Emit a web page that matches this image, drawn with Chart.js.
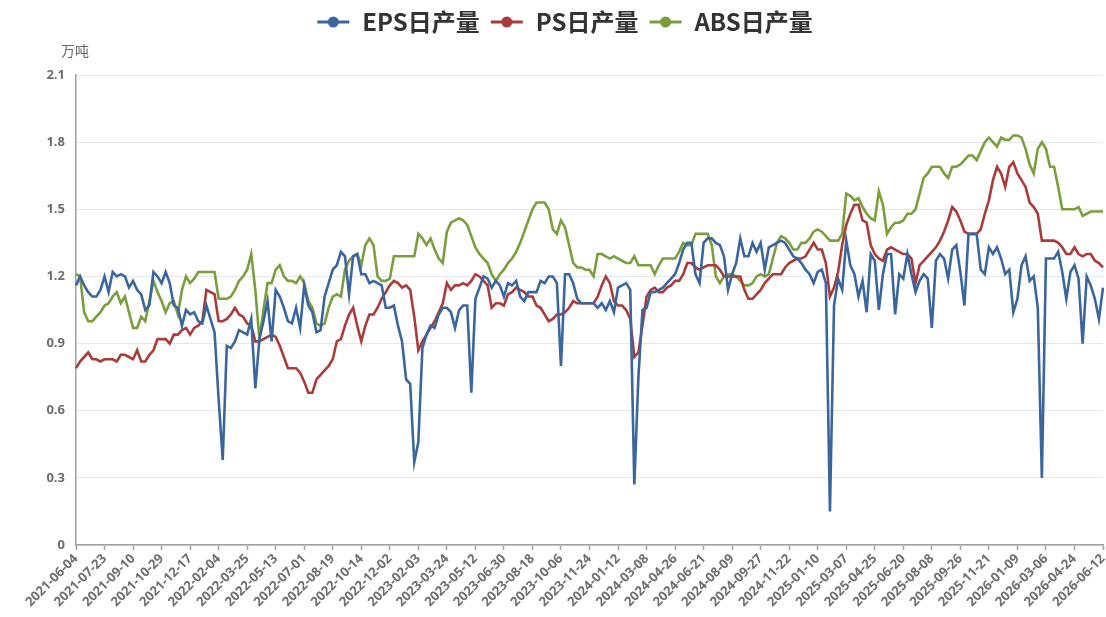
<!DOCTYPE html>
<html>
<head>
<meta charset="utf-8">
<script src="https://cdn.jsdelivr.net/npm/chart.js@4.4.1/dist/chart.umd.min.js"></script>
<style>
html,body{margin:0;padding:0;background:#ffffff;}
canvas{display:block;}
</style>
</head>
<body>
<canvas id="chart" width="1106" height="617"></canvas>
<script>
// ---------- data ----------
const firstWeek = '2021-06-04';
const lastWeek = '2026-06-12';
const skippedWeeks = ['2022-10-07','2023-01-13','2023-01-20','2024-02-16','2024-05-03',
  '2024-10-04','2025-02-07','2025-05-02','2025-10-03','2026-02-27'];

const tickLabels = ['2021-06-04','2021-07-23','2021-09-10','2021-10-29','2021-12-17',
  '2022-02-04','2022-03-25','2022-05-13','2022-07-01','2022-08-19','2022-10-14','2022-12-02',
  '2023-02-03','2023-03-24','2023-05-12','2023-06-30','2023-08-18','2023-10-06','2023-11-24',
  '2024-01-12','2024-03-08','2024-04-26','2024-06-21','2024-08-09','2024-09-27','2024-11-22',
  '2025-01-10','2025-03-07','2025-04-25','2025-06-20','2025-08-08','2025-09-26','2025-11-21',
  '2026-01-09','2026-03-06','2026-04-24','2026-06-12'];

const seriesNames = ['EPS日产量','PS日产量','ABS日产量'];
const unitLabel = '万吨';
const yTickValues = [0,0.3,0.6,0.9,1.2,1.5,1.8,2.1];

const epsOutput = [
 1.16,1.20,1.16,1.13,1.11,1.11,1.14,1.20,1.13,1.22,1.20,1.21,1.20,1.15,1.18,1.14,1.12,1.05,1.07,1.22,
 1.20,1.17,1.22,1.17,1.07,1.06,0.98,1.05,1.03,1.04,1.00,0.99,1.07,1.01,0.95,0.65,0.38,0.89,0.88,0.91,
 0.96,0.95,0.94,1.01,0.70,0.92,
 1.00,1.09,0.91,1.14,1.11,1.06,1.00,0.99,1.06,0.97,1.16,1.07,1.04,0.95,0.96,1.11,1.17,1.23,1.25,1.31,
 1.29,1.12,1.29,1.30,1.21,1.21,1.17,1.18,1.17,1.16,1.06,1.06,1.07,0.98,0.91,0.74,0.72,0.37,0.46,0.88,
 0.94,0.98,0.97,1.03,1.06,1.06,1.04,0.97,1.05,
 1.07,1.07,0.68,1.10,1.15,1.20,1.19,1.15,1.18,1.16,1.11,1.17,1.16,1.18,1.11,1.09,1.13,1.13,1.13,1.18,
 1.17,1.20,1.20,1.17,0.80,1.21,1.21,1.17,1.10,1.08,1.08,1.08,1.08,1.06,1.08,1.05,1.09,1.04,1.15,1.16,
 1.17,1.14,0.27,0.75,1.05,1.06,
 1.13,1.13,1.14,1.15,1.17,1.19,1.21,1.26,1.32,1.35,1.35,1.21,1.17,1.35,1.37,1.37,1.35,1.34,1.29,1.14,
 1.21,1.26,1.37,1.29,1.29,1.35,1.31,1.35,1.23,1.33,1.34,1.35,1.36,1.35,1.32,1.29,1.28,1.26,1.23,1.21,
 1.17,1.22,1.23,1.17,
 0.15,1.07,1.19,1.14,1.36,1.25,1.21,1.11,1.18,1.04,1.30,1.27,1.05,1.21,1.30,1.30,1.03,1.21,1.19,1.30,
 1.21,1.13,1.18,1.21,1.19,0.97,1.27,1.30,1.28,1.19,1.32,1.34,1.22,1.07,1.39,1.39,1.39,1.23,1.21,1.33,
 1.30,1.33,1.28,1.21,1.23,1.04,1.10,1.25,1.29,1.18,1.20,1.06,0.30,1.28,1.28,1.28,1.31,1.22,1.10,1.22,
 1.25,1.19,0.90,1.20,1.16,1.10,1.01,1.15];

const psOutput = [
 0.79,0.82,0.84,0.86,0.83,0.83,0.82,0.83,0.83,0.83,0.82,0.85,0.85,0.84,0.83,0.87,0.82,0.82,0.85,0.87,
 0.92,0.92,0.92,0.90,0.94,0.94,0.96,0.97,0.94,0.97,0.98,1.00,1.14,1.13,1.12,1.00,1.00,1.01,1.03,1.06,
 1.03,1.02,0.99,0.98,0.91,0.91,
 0.92,0.93,0.94,0.93,0.89,0.84,0.79,0.79,0.79,0.77,0.73,0.68,0.68,0.74,0.76,0.78,0.80,0.83,0.91,0.92,
 0.98,1.03,1.06,0.98,0.91,0.98,1.03,1.03,1.06,1.10,1.13,1.16,1.18,1.17,1.15,1.16,1.14,1.02,0.87,0.91,
 0.94,0.97,1.00,1.04,1.08,1.17,1.14,1.16,1.16,
 1.17,1.16,1.18,1.21,1.20,1.18,1.16,1.06,1.08,1.08,1.07,1.12,1.13,1.15,1.14,1.13,1.11,1.11,1.07,1.06,
 1.03,1.00,1.01,1.03,1.03,1.04,1.06,1.09,1.08,1.08,1.08,1.08,1.08,1.11,1.16,1.20,1.17,1.09,1.07,1.07,
 1.05,1.01,0.84,0.86,0.98,1.11,
 1.14,1.15,1.13,1.13,1.15,1.16,1.18,1.18,1.21,1.26,1.26,1.24,1.23,1.24,1.25,1.25,1.25,1.23,1.20,1.20,
 1.20,1.20,1.20,1.14,1.10,1.10,1.12,1.14,1.17,1.19,1.21,1.21,1.21,1.24,1.26,1.27,1.28,1.28,1.29,1.32,
 1.35,1.32,1.32,1.26,
 1.11,1.15,1.22,1.34,1.43,1.48,1.52,1.52,1.45,1.44,1.34,1.30,1.28,1.27,1.32,1.33,1.32,1.31,1.30,1.30,
 1.28,1.17,1.25,1.27,1.29,1.31,1.33,1.36,1.40,1.45,1.51,1.49,1.45,1.40,1.39,1.39,1.39,1.41,1.48,1.54,
 1.63,1.69,1.66,1.60,1.69,1.71,1.66,1.63,1.60,1.53,1.51,1.48,1.36,1.36,1.36,1.36,1.35,1.33,1.30,1.30,
 1.33,1.30,1.29,1.30,1.30,1.27,1.26,1.24];

const absOutput = [
 1.21,1.20,1.04,1.00,1.00,1.02,1.04,1.07,1.08,1.11,1.13,1.08,1.11,1.04,0.97,0.97,1.02,1.00,1.09,1.18,
 1.13,1.09,1.04,1.08,1.09,1.03,1.14,1.20,1.17,1.19,1.22,1.22,1.22,1.22,1.22,1.10,1.10,1.10,1.11,1.14,
 1.18,1.20,1.23,1.30,1.14,0.92,
 1.05,1.17,1.17,1.23,1.25,1.20,1.18,1.18,1.17,1.20,1.17,1.09,1.06,0.99,0.98,0.99,1.06,1.11,1.12,1.11,
 1.23,1.27,1.29,1.30,1.25,1.34,1.37,1.34,1.20,1.18,1.18,1.19,1.29,1.29,1.29,1.29,1.29,1.29,1.39,1.37,
 1.34,1.37,1.32,1.28,1.26,1.40,1.44,1.45,1.46,
 1.45,1.43,1.38,1.33,1.30,1.28,1.26,1.21,1.18,1.21,1.23,1.26,1.28,1.31,1.35,1.40,1.45,1.50,1.53,1.53,
 1.53,1.50,1.41,1.39,1.45,1.42,1.34,1.26,1.24,1.24,1.23,1.23,1.20,1.30,1.30,1.29,1.28,1.29,1.28,1.27,
 1.26,1.26,1.29,1.25,1.25,1.25,
 1.25,1.21,1.25,1.28,1.28,1.28,1.28,1.31,1.35,1.34,1.34,1.39,1.39,1.39,1.39,1.34,1.20,1.17,1.20,1.21,
 1.21,1.20,1.18,1.16,1.16,1.17,1.20,1.21,1.20,1.21,1.28,1.35,1.38,1.37,1.35,1.32,1.32,1.35,1.35,1.37,
 1.40,1.41,1.40,1.38,
 1.36,1.36,1.36,1.39,1.57,1.56,1.54,1.55,1.51,1.48,1.46,1.45,1.58,1.52,1.39,1.42,1.44,1.44,1.45,1.48,
 1.48,1.50,1.57,1.64,1.66,1.69,1.69,1.69,1.66,1.64,1.69,1.69,1.70,1.72,1.74,1.74,1.72,1.76,1.80,1.82,
 1.80,1.78,1.82,1.81,1.81,1.83,1.83,1.82,1.77,1.70,1.66,1.77,1.80,1.77,1.69,1.69,1.60,1.50,1.50,1.50,
 1.50,1.51,1.47,1.48,1.49,1.49,1.49,1.49];

const seriesColors = ['#3b669d','#a93c3b','#7b9e3c'];

// ---------- categories (weekly dates, holiday weeks skipped) ----------
function buildWeeks(from, to, skip) {
  const out = [];
  const skipSet = new Set(skip);
  const d = new Date(from + 'T00:00:00Z');
  const end = new Date(to + 'T00:00:00Z');
  while (d <= end) {
    const s = d.toISOString().slice(0, 10);
    if (!skipSet.has(s)) out.push(s);
    d.setUTCDate(d.getUTCDate() + 7);
  }
  return out;
}
const categories = buildWeeks(firstWeek, lastWeek, skippedWeeks);
const tickSet = new Set(tickLabels);

// ---------- legend icons ----------
function legendIcon(color) {
  const c = document.createElement('canvas');
  c.width = 34; c.height = 14;
  const g = c.getContext('2d');
  g.strokeStyle = color; g.lineWidth = 3;
  g.beginPath(); g.moveTo(1, 7); g.lineTo(33, 7); g.stroke();
  g.fillStyle = color;
  g.beginPath(); g.arc(17, 7, 5.5, 0, Math.PI * 2); g.fill();
  return c;
}
const icons = seriesColors.map(legendIcon);

const unitPlugin = {
  id: 'unitLabel',
  afterDraw(chart) {
    const ctx = chart.ctx;
    ctx.save();
    ctx.font = '14px "Noto Sans CJK SC", sans-serif';
    ctx.fillStyle = '#666666';
    ctx.textAlign = 'left';
    ctx.textBaseline = 'middle';
    ctx.fillText(unitLabel, 61, 51);
    ctx.restore();
  }
};

const seriesData = [epsOutput, psOutput, absOutput];

new Chart(document.getElementById('chart'), {
  type: 'line',
  data: {
    labels: categories,
    datasets: seriesNames.map((name, i) => ({
      label: name,
      data: seriesData[i],
      borderColor: seriesColors[i],
      backgroundColor: seriesColors[i],
      borderWidth: 2.6,
      pointRadius: 0,
      pointHoverRadius: 0,
      tension: 0,
      fill: false
    }))
  },
  options: {
    responsive: false,
    animation: false,
    devicePixelRatio: 1,
    layout: { padding: { left: 26, right: 3, top: 0, bottom: 0 } },
    plugins: {
      tooltip: { enabled: false },
      title: {
        display: true,
        text: ' ',
        position: 'top',
        weight: 500,
        font: { size: 10 },
        padding: { top: 0, bottom: 19 }
      },
      legend: {
        position: 'top',
        align: 'center',
        weight: 1000,
        labels: {
          usePointStyle: true,
          pointStyleWidth: 34,
          padding: 10,
          color: '#333333',
          font: { family: '"Noto Sans CJK SC", sans-serif', size: 24, weight: 'bold' },
          generateLabels(chart) {
            return chart.data.datasets.map((ds, i) => ({
              text: ds.label,
              fillStyle: ds.borderColor,
              strokeStyle: ds.borderColor,
              lineWidth: 0,
              pointStyle: icons[i],
              hidden: false,
              datasetIndex: i,
              fontColor: '#333333'
            }));
          }
        }
      }
    },
    scales: {
      x: {
        type: 'category',
        offset: false,
        grid: { display: true, drawOnChartArea: false, drawTicks: true, tickLength: 5, tickColor: '#a0a0a0', tickWidth: 1.5 },
        border: { display: true, color: '#a0a0a0', width: 1.5 },
        ticks: {
          autoSkip: false,
          maxRotation: 45,
          minRotation: 45,
          padding: 1,
          color: '#6e6e6e',
          font: { family: '"Open Sans", sans-serif', size: 13, weight: 'bold' },
          callback(value, index) {
            const lab = categories[index];
            return tickSet.has(lab) ? lab : null;
          }
        },
        afterFit(scale) {
          scale.height = 72;
          scale.paddingLeft = 0;
          scale.paddingRight = 0;
        }
      },
      y: {
        min: 0,
        max: 2.1,
        grid: { color: '#e3e7ef', lineWidth: 1, drawTicks: false },
        border: { display: true, color: '#a0a0a0', width: 1.5 },
        ticks: {
          padding: 11,
          color: '#6e6e6e',
          font: { family: '"Open Sans", sans-serif', size: 13, weight: 'bold' },
          callback(value) { return String(Math.round(value * 10) / 10); }
        },
        afterBuildTicks(scale) {
          scale.ticks = yTickValues.map(v => ({ value: v }));
        },
        afterFit(scale) {
          scale.width = 50;
          scale.paddingTop = 0;
          scale.paddingBottom = 0;
        }
      }
    }
  },
  plugins: [unitPlugin]
});
</script>
</body>
</html>
